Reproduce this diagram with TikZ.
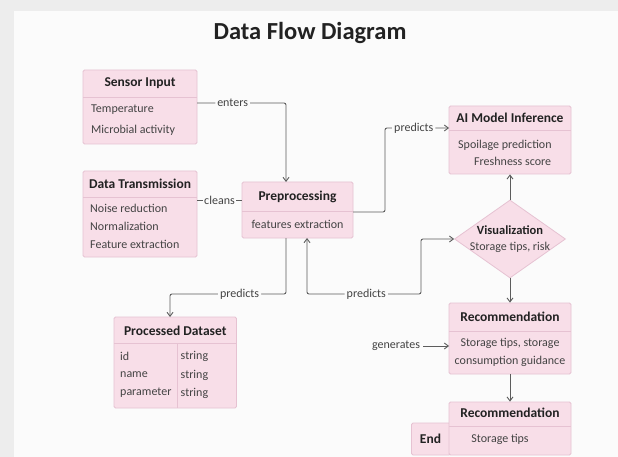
\documentclass[tikz,border=0pt]{standalone}
\usepackage{fontspec}
\setmainfont{Carlito}
\usetikzlibrary{arrows.meta,shapes.geometric}
\definecolor{outerbg}{HTML}{EDEDED}
\definecolor{panelbg}{HTML}{FBFBFB}
\definecolor{boxfill}{HTML}{F8DEE8}
\definecolor{boxline}{HTML}{E6C2D2}
\definecolor{wire}{HTML}{5C5C5C}
\definecolor{ink}{HTML}{222222}
\tikzset{
  box/.style={draw=boxline, fill=boxfill, line width=0.8pt, rounded corners=1.5pt, inner sep=0pt},
  divline/.style={draw=boxline, line width=0.8pt},
  hdr/.style={font=\fontsize{13.5}{15}\selectfont\bfseries, text=ink, inner sep=0pt},
  txt/.style={font=\fontsize{12}{14}\selectfont, text=ink!85, inner sep=0pt},
  conn/.style={draw=wire, line width=0.9pt, rounded corners=2pt},
  arr/.style={-{Straight Barb[length=4pt,width=6pt]}},
  lbl/.style={font=\fontsize{12}{14}\selectfont, text=ink!85, fill=panelbg, inner sep=2pt},
}
\begin{document}
\begin{tikzpicture}[x=1pt,y=-1pt]
\useasboundingbox (0,0) rectangle (618,457);
\fill[outerbg] (0,0) rectangle (618,457);
\fill[panelbg] (14,11) rectangle (618,457);

\node[font=\fontsize{24.5}{27}\selectfont\bfseries, text=ink] (title) at (310,33) {Data Flow Diagram};

% Sensor Input
\node[box, minimum width=114pt, minimum height=74pt] (si) at (140,107) {};
\draw[divline] (83,97) -- (197,97);
\node[hdr] (sih) at (140,83) {Sensor Input};
\node[txt, anchor=west] (si1) at (91,110) {Temperature};
\node[txt, anchor=west] (si2) at (91,130) {Microbial activity};

% Data Transmission
\node[box, minimum width=114pt, minimum height=86pt] (dt) at (140,214) {};
\draw[divline] (83,197) -- (197,197);
\node[hdr] (dth) at (140,184) {Data Transmission};
\node[txt, anchor=west] (dt1) at (90,208) {Noise reduction};
\node[txt, anchor=west] (dt2) at (90,226) {Normalization};
\node[txt, anchor=west] (dt3) at (90,244) {Feature extraction};

% Preprocessing
\node[box, minimum width=111pt, minimum height=56pt] (pp) at (297.5,210) {};
\draw[divline] (242,211) -- (353,211);
\node[hdr] (pph) at (297.5,197) {Preprocessing};
\node[txt] (pp1) at (297.5,224) {features extraction};

% AI Model Inference
\node[box, minimum width=122pt, minimum height=68pt] (ai) at (510,140) {};
\draw[divline] (449,130) -- (571,130);
\node[hdr] (aih) at (510,118) {AI Model Inference};
\node[txt, anchor=west] (ai1) at (458,145) {Spoilage prediction};
\node[txt, anchor=west] (ai2) at (474,161) {Freshness score};

% Visualization diamond
\node[diamond, draw=boxline, fill=boxfill, line width=0.8pt, minimum width=111pt, minimum height=78pt, inner sep=0pt] (vis) at (510,239) {};
\node[hdr, font=\fontsize{12.5}{14}\selectfont\bfseries] (vish) at (510,230) {Visualization};
\node[txt] (vis1) at (510,247) {Storage tips, risk};

% Recommendation 1
\node[box, minimum width=122pt, minimum height=71pt] (rec) at (510,338.5) {};
\draw[divline] (449,331) -- (571,331);
\node[hdr] (rech) at (510,317) {Recommendation};
\node[txt] (rec1) at (510,343) {Storage tips, storage};
\node[txt] (rec2) at (510,361) {consumption guidance};

% End + Recommendation 2
\node[box, minimum width=39pt, minimum height=32pt] (endb) at (431,439) {};
\node[box, minimum width=122pt, minimum height=53pt] (recb) at (510,428.5) {};
\draw[divline] (449,426) -- (571,426);
\node[hdr] (recbh) at (510,413) {Recommendation};
\node[txt] (recb1) at (500,439) {Storage tips};
\node[hdr] (endt) at (430.5,439) {End};

% Processed Dataset
\node[box, minimum width=122.5pt, minimum height=91pt] (pd) at (175.25,362.5) {};
\draw[divline] (114,343) -- (236.5,343);
\draw[divline] (177,343) -- (177,408);
\node[hdr] (pdh) at (175.25,331) {Processed Dataset};
\node[txt, anchor=west] (pda) at (120,356) {id};
\node[txt, anchor=west] (pdb) at (120,375) {name};
\node[txt, anchor=west] (pdc) at (120,393) {parameter};
\node[txt, anchor=west] (pdd) at (180.5,356) {string};
\node[txt, anchor=west] (pde) at (180.5,375) {string};
\node[txt, anchor=west] (pdf) at (180.5,393) {string};

% connector helper coordinates
\coordinate (e1) at (197,103);
\coordinate (e2) at (286,103);
\coordinate (e3) at (286,182);
\coordinate (c1) at (197,200);
\coordinate (c2) at (242,200);
\coordinate (p1) at (353,212);
\coordinate (p2) at (385,212);
\coordinate (p3) at (385,128);
\coordinate (p4) at (449,128);
\coordinate (q1) at (286,238);
\coordinate (q2) at (286,294);
\coordinate (q3) at (170,294);
\coordinate (q4) at (170,317);
\coordinate (r1) at (307,238);
\coordinate (r2) at (307,294);
\coordinate (r3) at (421,294);
\coordinate (r4) at (421,239);
\coordinate (g1) at (449,346);

% connectors
\draw[conn, arr] (e1) -- node[lbl, pos=0.4] {enters} (e2) -- (e3);
\draw[conn] (c1) -- node[lbl, inner sep=1pt] {cleans} (c2);
\draw[conn, arr] (p1) -- (p2) -- (p3) -- node[lbl, pos=0.45] {predicts} (p4);
\draw[conn, arr] (q1) -- (q2) -- node[lbl, pos=0.4] {predicts} (q3) -- (q4);
\draw[conn, {Straight Barb[length=4pt,width=6pt]}-{Straight Barb[length=4pt,width=6pt]}] (r1) -- (r2) -- node[lbl, pos=0.52] {predicts} (r3) -- (r4) -- (vis.west);
\draw[conn, arr] (vis.north) -- (ai.south);
\draw[conn, arr] (vis.south) -- (rec.north);
\draw[conn, arr] (rec.south) -- (recb.north);
\node[txt] (gen) at (396,346) {generates};
\draw[conn, arr] (gen.east) ++(3,0) coordinate (g0) (g0) -- (g1);
\end{tikzpicture}
\end{document}
